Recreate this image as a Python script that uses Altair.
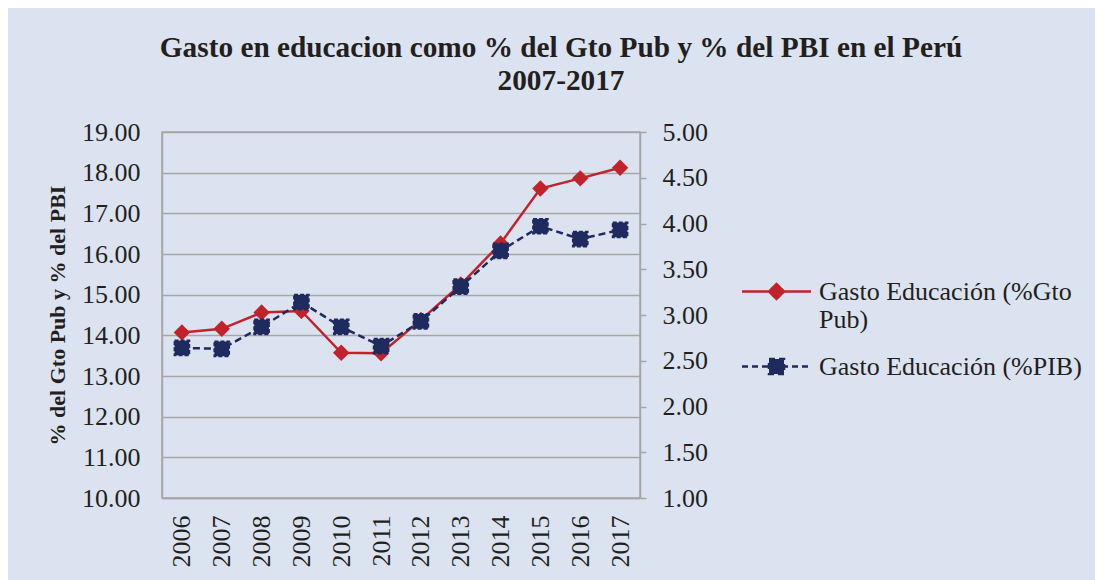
import altair as alt
import pandas as pd

anios = ["2006", "2007", "2008", "2009", "2010", "2011", "2012", "2013", "2014", "2015", "2016", "2017"]
gasto_pub = [14.07, 14.16, 14.56, 14.60, 13.57, 13.56, 14.38, 15.25, 16.26, 17.61, 17.86, 18.12]
gasto_pib = [2.64, 2.63, 2.87, 3.14, 2.87, 2.66, 2.93, 3.31, 3.70, 3.97, 3.83, 3.93]

serie_pub = "Gasto Educación (%Gto Pub)"
serie_pib = "Gasto Educación (%PIB)"
series = [serie_pub, serie_pib]

ticks_izq = [10, 11, 12, 13, 14, 15, 16, 17, 18, 19]
ticks_der = [1.0, 1.5, 2.0, 2.5, 3.0, 3.5, 4.0, 4.5, 5.0]

ROJO = "#C0232B"
AZUL = "#1F2A5E"
GRIS = "#A6A6A6"
TEXTO = "#231F20"
FONDO = "#DCE3F0"
FUENTE = "Liberation Serif"

df = pd.DataFrame({"anio": anios, "pub": gasto_pub, "pib": gasto_pib})

x_enc = alt.X("anio:O", scale=alt.Scale(type="point", padding=0.5),
              axis=alt.Axis(title=None, labelAngle=-90, ticks=False, labelPadding=17,
                            domainColor=GRIS, domainWidth=1.5, grid=False))

rojo = alt.Chart(df).mark_line(
    color=ROJO, strokeWidth=2.5,
    point=alt.OverlayMarkDef(shape="diamond", size=270, filled=True, color=ROJO, opacity=1)
).encode(
    x=x_enc,
    y=alt.Y("pub:Q", scale=alt.Scale(domain=[10, 19], nice=False, zero=False),
            axis=alt.Axis(orient="left", title="% del Gto Pub y % del PBI", values=ticks_izq,
                          format=".2f", ticks=False, labelPadding=22, grid=True,
                          gridColor=GRIS, gridWidth=1.5, domainColor=GRIS, domainWidth=1.5,
                          titlePadding=12, titleFontWeight="bold", titleFontSize=22))
)

azul = alt.Chart(df).mark_line(
    color=AZUL, strokeWidth=2.5, strokeDash=[7, 4],
    point=alt.OverlayMarkDef(shape="square", size=215, filled=True, color=AZUL, opacity=1,
                             stroke=AZUL, strokeWidth=2, strokeDash=[4, 2])
).encode(
    x=x_enc,
    y=alt.Y("pib:Q", scale=alt.Scale(domain=[1, 5], nice=False, zero=False),
            axis=alt.Axis(orient="right", title=None, values=ticks_der, format=".2f",
                          ticks=True, tickSize=6, tickColor=GRIS, tickWidth=1.5,
                          labelPadding=16, grid=False, domainColor=GRIS, domainWidth=1.5))
)

# capa invisible solo para la leyenda
ley_df = pd.DataFrame({"serie": series})
ruta_pub = "M-2.3,0L2.3,0M-0.5,0L0,-0.5L0.5,0L0,0.5Z"
ruta_pib = "M-2.3,0L2.3,0M-0.5,-0.5L0.5,-0.5L0.5,0.5L-0.5,0.5Z"
leyenda = alt.Chart(ley_df).mark_point(filled=True, size=900, strokeWidth=2.5, opacity=1).encode(
    fill=alt.Fill("serie:N", title=None,
                  scale=alt.Scale(domain=series, range=[ROJO, AZUL]),
                  legend=alt.Legend(orient="none", legendX=598, legendY=143,
                                    labelFont=FUENTE, labelFontSize=26, labelColor=TEXTO,
                                    labelLimit=400, labelOffset=26, symbolStrokeWidth=2.5,
                                    symbolSize=900, symbolOpacity=1, rowPadding=17, padding=0,
                                    labelExpr="datum.label == '" + serie_pub + "' ? ['Gasto Educación (%Gto', 'Pub)'] : datum.label")),
    stroke=alt.Stroke("serie:N", title=None, scale=alt.Scale(domain=series, range=[ROJO, AZUL])),
    shape=alt.Shape("serie:N", title=None, scale=alt.Scale(domain=series, range=[ruta_pub, ruta_pib])),
    strokeDash=alt.StrokeDash("serie:N", title=None,
                              scale=alt.Scale(domain=series, range=[[1, 0], [6, 4]])),
).transform_filter("false")

chart = alt.layer(rojo, azul, leyenda).resolve_scale(y="independent").properties(
    width=478, height=366,
    autosize=alt.AutoSizeParams(type="none"),
    padding={"left": 154, "top": 124, "right": 455, "bottom": 82},
    background=FONDO,
    title=alt.TitleParams(
        text=["Gasto en educacion como % del Gto Pub y % del PBI en el Perú", "2007-2017"],
        font=FUENTE, fontSize=29.3, fontWeight="bold", color=TEXTO, lineHeight=33,
        anchor="middle", frame="group", dx=160, offset=23),
).configure_view(fill="white", stroke=GRIS, strokeWidth=1.5).configure_axis(
    labelFont=FUENTE, labelFontSize=26, labelColor=TEXTO, titleFont=FUENTE, titleColor=TEXTO
)

chart.save("out.html", embed_options={"renderer": "svg", "actions": False})
